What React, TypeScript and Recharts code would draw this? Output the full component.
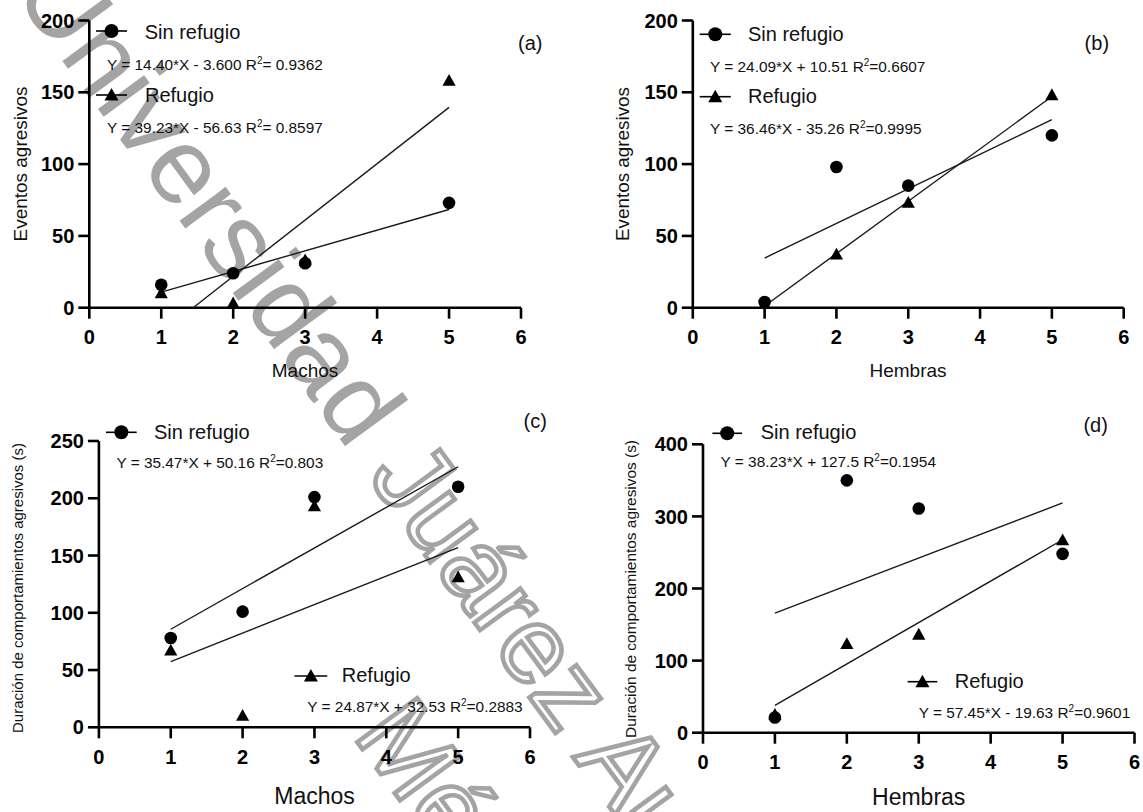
import React from 'react';
import { ScatterChart, Scatter, XAxis, YAxis, Legend, Label } from 'recharts';

const FONT = '"Liberation Sans", Arial, Helvetica, sans-serif';

// ---------- data ----------
const xValues = [1, 2, 3, 5];
const xTicks = [0, 1, 2, 3, 4, 5, 6];
const seriesNames = ['Sin refugio', 'Refugio'];

// (a) Eventos agresivos vs Machos
const aSin = [16, 24, 31, 73];
const aRef = [10, 3, 33, 158];
const aSinFitX = [1, 5];
const aSinFitY = [10.8, 68.4];
const aRefFitX = [1.443, 5];
const aRefFitY = [0, 139.5];
const aEqSin = ['Y = 14.40*X - 3.600 R', '= 0.9362'];
const aEqRef = ['Y = 39.23*X - 56.63 R', '= 0.8597'];
const aYTicks = [0, 50, 100, 150, 200];

// (b) Eventos agresivos vs Hembras
const bSin = [4, 98, 85, 120];
const bRef = [2, 37, 73, 148];
const bSinFitX = [1, 5];
const bSinFitY = [34.6, 130.96];
const bRefFitX = [1, 5];
const bRefFitY = [1.2, 147.04];
const bEqSin = ['Y = 24.09*X + 10.51 R', '=0.6607'];
const bEqRef = ['Y = 36.46*X - 35.26 R', '=0.9995'];
const bYTicks = [0, 50, 100, 150, 200];

// (c) Duración vs Machos
const cSin = [78, 101, 201, 210];
const cRef = [67, 10, 193, 131];
const cSinFitX = [1, 5];
const cSinFitY = [85.63, 227.51];
const cRefFitX = [1, 5];
const cRefFitY = [57.4, 156.88];
const cEqSin = ['Y = 35.47*X + 50.16 R', '=0.803'];
const cEqRef = ['Y = 24.87*X + 32.53 R', '=0.2883'];
const cYTicks = [0, 50, 100, 150, 200, 250];

// (d) Duración vs Hembras
const dSin = [21, 350, 311, 248];
const dRef = [25, 123, 136, 267];
const dSinFitX = [1, 5];
const dSinFitY = [165.73, 318.65];
const dRefFitX = [1, 5];
const dRefFitY = [37.82, 267.62];
const dEqSin = ['Y = 38.23*X + 127.5 R', '=0.1954'];
const dEqRef = ['Y = 57.45*X - 19.63 R', '=0.9601'];
const dYTicks = [0, 100, 200, 300, 400];

const yTitleEventos = 'Eventos agresivos';
const yTitleDuracion = 'Duración de comportamientos agresivos (s)';
const xTitleMachos = 'Machos';
const xTitleHembras = 'Hembras';
const watermark1a = 'Universidad';
const watermark1b = ' Juárez Autónoma de Tabasco';
const watermark2 = 'México';

const toPts = (xs: number[], ys: number[]) => xs.map((x, i) => ({ x, y: ys[i] }));

// ---------- shapes ----------
const CircleDot = (p: any) => <circle cx={p.cx} cy={p.cy} r={6.3} fill="#000" />;
const TriDot = (p: any) => (
  <path d={`M${p.cx},${p.cy - 6.8}L${p.cx + 6.6},${p.cy + 5}L${p.cx - 6.6},${p.cy + 5}Z`} fill="#000" />
);
const NoDot = () => <g />;

type Entry = {
  kind: 'circle' | 'triangle';
  lx1: number; lx2: number; ly: number;
  tx: number; ty: number; name: string;
  ex: number; ey: number; eq: string[];
};

const EqText = ({ x, y, eq }: { x: number; y: number; eq: string[] }) => (
  <text x={x} y={y} fontSize={15.4} fontFamily={FONT} fill="#111">
    {eq[0]}
    <tspan dy={-6} fontSize={10}>2</tspan>
    <tspan dy={6}>{eq[1]}</tspan>
  </text>
);

const LegendBox = ({ w, h, entries, title }: { w: number; h: number; entries: Entry[]; title: { text: string; x: number; y: number } }) => (
  <svg width={w} height={h} style={{ position: 'absolute', left: 0, top: 0, overflow: 'visible', pointerEvents: 'none' }}>
    {entries.map((e, i) => {
      const cx = (e.lx1 + e.lx2) / 2;
      return (
        <g key={i}>
          <line x1={e.lx1} x2={e.lx2} y1={e.ly} y2={e.ly} stroke="#000" strokeWidth={1.6} />
          {e.kind === 'circle' ? (
            <circle cx={cx} cy={e.ly} r={7} fill="#000" />
          ) : (
            <path d={`M${cx},${e.ly - 7}L${cx + 7},${e.ly + 5.5}L${cx - 7},${e.ly + 5.5}Z`} fill="#000" />
          )}
          <text x={e.tx} y={e.ty} fontSize={20} fontFamily={FONT} fill="#111">{e.name}</text>
          <EqText x={e.ex} y={e.ey} eq={e.eq} />
        </g>
      );
    })}
    <text x={title.x} y={title.y} fontSize={20} fontFamily={FONT} fill="#111">{title.text}</text>
  </svg>
);

type PanelProps = {
  left: number; top: number; w: number; h: number;
  plot: { l: number; r: number; t: number; b: number };
  yMax: number; yTicks: number[];
  sin: number[]; ref: number[];
  sinFit: { x: number; y: number }[]; refFit: { x: number; y: number }[];
  yTitle: { text: string; cx: number; cy: number; size: number; len: number };
  xTitle: { text: string; cx: number; y: number; size: number };
  title: { text: string; x: number; y: number };
  entries: Entry[];
};

const Panel = (p: PanelProps) => {
  const xAxisH = 40;
  const margin = { top: p.plot.t, left: 0, right: p.w - p.plot.r, bottom: p.h - p.plot.b - xAxisH };
  const sinPts = toPts(xValues, p.sin);
  const refPts = toPts(xValues, p.ref);
  const axisStyle = { stroke: '#000', strokeWidth: 2.6 };
  const tickStyle = { fill: '#000', fontSize: 20, fontWeight: 700, fontFamily: FONT };
  return (
    <div style={{ position: 'absolute', left: p.left, top: p.top, width: p.w, height: p.h }}>
      <ScatterChart width={p.w} height={p.h} margin={margin}>
        <XAxis
          type="number" dataKey="x" domain={[0, 6]} ticks={xTicks} interval={0}
          height={xAxisH} tickSize={11} tickMargin={11}
          axisLine={axisStyle} tickLine={axisStyle} tick={tickStyle} allowDataOverflow
        >
          <Label
            content={() => (
              <text x={p.xTitle.cx} y={p.xTitle.y} textAnchor="middle" fontSize={p.xTitle.size} fontFamily={FONT} fill="#111">
                {p.xTitle.text}
              </text>
            )}
          />
        </XAxis>
        <YAxis
          type="number" dataKey="y" domain={[0, p.yMax]} ticks={p.yTicks} interval={0}
          width={p.plot.l} tickSize={11} tickMargin={4}
          axisLine={axisStyle} tickLine={axisStyle} tick={tickStyle} allowDataOverflow
        >
          <Label
            content={() => (
              <text
                x={p.yTitle.cx} y={p.yTitle.cy} textAnchor="middle" dominantBaseline="central"
                transform={`rotate(-90 ${p.yTitle.cx} ${p.yTitle.cy})`}
                fontSize={p.yTitle.size} fontFamily={FONT} fill="#111"
                textLength={p.yTitle.len} lengthAdjust="spacingAndGlyphs"
              >
                {p.yTitle.text}
              </text>
            )}
          />
        </YAxis>
        <Scatter name="fit-sin" data={p.sinFit} line={{ stroke: '#1a1a1a', strokeWidth: 1.4 }} lineType="joint" shape={NoDot} isAnimationActive={false} legendType="none" />
        <Scatter name="fit-ref" data={p.refFit} line={{ stroke: '#1a1a1a', strokeWidth: 1.4 }} lineType="joint" shape={NoDot} isAnimationActive={false} legendType="none" />
        <Scatter name={seriesNames[1]} data={refPts} shape={TriDot} isAnimationActive={false} />
        <Scatter name={seriesNames[0]} data={sinPts} shape={CircleDot} isAnimationActive={false} />
        <Legend
          layout="horizontal" verticalAlign="middle" align="center"
          wrapperStyle={{ position: 'absolute', left: 0, top: 0, width: p.w, height: p.h, pointerEvents: 'none' }}
          content={() => <LegendBox w={p.w} h={p.h} entries={p.entries} title={p.title} />}
        />
      </ScatterChart>
    </div>
  );
};

const Watermark = () => (
  <svg width={1143} height={812} style={{ position: 'absolute', left: 0, top: 0 }}>
    <g transform="translate(12,-8) rotate(53.75)">
      <text x={0} y={0} fontSize={108} fontFamily={FONT}>
        <tspan fill="#a4a4a4">{watermark1a}</tspan>
        <tspan fill="#fff" stroke="#a4a4a4" strokeWidth={4.5}>{watermark1b}</tspan>
      </text>
    </g>
    <g transform="translate(352,735) rotate(53.75)">
      <text x={0} y={0} fontSize={108} fontFamily={FONT} fill="#fff" stroke="#a4a4a4" strokeWidth={4.5}>
        {watermark2}
      </text>
    </g>
  </svg>
);

export default function App() {
  return (
    <div style={{ position: 'absolute', left: 0, top: 0, width: 1143, height: 812, background: '#fff', overflow: 'hidden' }}>
      <Watermark />
      <Panel
        left={0} top={0} w={570} h={400}
        plot={{ l: 89.3, r: 521, t: 20.5, b: 307.7 }}
        yMax={200} yTicks={aYTicks} sin={aSin} ref={aRef}
        sinFit={toPts(aSinFitX, aSinFitY)} refFit={toPts(aRefFitX, aRefFitY)}
        yTitle={{ text: yTitleEventos, cx: 20, cy: 164, size: 19, len: 155 }}
        xTitle={{ text: xTitleMachos, cx: 305, y: 376.5, size: 19 }}
        title={{ text: '(a)', x: 518, y: 50 }}
        entries={[
          { kind: 'circle', lx1: 96, lx2: 127, ly: 31, tx: 144.7, ty: 39.3, name: seriesNames[0], ex: 107, ey: 70, eq: aEqSin },
          { kind: 'triangle', lx1: 96, lx2: 127, ly: 95, tx: 145, ty: 101.7, name: seriesNames[1], ex: 107, ey: 132.7, eq: aEqRef },
        ]}
      />
      <Panel
        left={570} top={0} w={573} h={400}
        plot={{ l: 122.8, r: 553.7, t: 20.5, b: 307.7 }}
        yMax={200} yTicks={bYTicks} sin={bSin} ref={bRef}
        sinFit={toPts(bSinFitX, bSinFitY)} refFit={toPts(bRefFitX, bRefFitY)}
        yTitle={{ text: yTitleEventos, cx: 52, cy: 164, size: 19, len: 154 }}
        xTitle={{ text: xTitleHembras, cx: 338, y: 376.5, size: 19 }}
        title={{ text: '(b)', x: 514.6, y: 50 }}
        entries={[
          { kind: 'circle', lx1: 129.7, lx2: 160.8, ly: 34.3, tx: 178, ty: 41, name: seriesNames[0], ex: 140, ey: 71.7, eq: bEqSin },
          { kind: 'triangle', lx1: 129.7, lx2: 160.8, ly: 96.7, tx: 178, ty: 103.3, name: seriesNames[1], ex: 140, ey: 134, eq: bEqRef },
        ]}
      />
      <Panel
        left={0} top={400} w={570} h={412}
        plot={{ l: 98.9, r: 530, t: 41, b: 327.3 }}
        yMax={250} yTicks={cYTicks} sin={cSin} ref={cRef}
        sinFit={toPts(cSinFitX, cSinFitY)} refFit={toPts(cRefFitX, cRefFitY)}
        yTitle={{ text: yTitleDuracion, cx: 17.3, cy: 188, size: 15, len: 290 }}
        xTitle={{ text: xTitleMachos, cx: 314.5, y: 404, size: 23 }}
        title={{ text: '(c)', x: 523.6, y: 28.3 }}
        entries={[
          { kind: 'circle', lx1: 106, lx2: 136.7, ly: 32.3, tx: 154, ty: 39.3, name: seriesNames[0], ex: 116.4, ey: 68.3, eq: cEqSin },
          { kind: 'triangle', lx1: 294.5, lx2: 327.3, ly: 276, tx: 341.8, ty: 281.7, name: seriesNames[1], ex: 307.3, ey: 311.7, eq: cEqRef },
        ]}
      />
      <Panel
        left={570} top={400} w={573} h={412}
        plot={{ l: 133, r: 564.5, t: 44.3, b: 332.7 }}
        yMax={400} yTicks={dYTicks} sin={dSin} ref={dRef}
        sinFit={toPts(dSinFitX, dSinFitY)} refFit={toPts(dRefFitX, dRefFitY)}
        yTitle={{ text: yTitleDuracion, cx: 60.7, cy: 189, size: 15.4, len: 298 }}
        xTitle={{ text: xTitleHembras, cx: 348.7, y: 405, size: 23 }}
        title={{ text: '(d)', x: 513.4, y: 31.7 }}
        entries={[
          { kind: 'circle', lx1: 142.4, lx2: 172, ly: 33.3, tx: 190.7, ty: 39.3, name: seriesNames[0], ex: 150.6, ey: 67.3, eq: dEqSin },
          { kind: 'triangle', lx1: 337.6, lx2: 367.3, ly: 281.7, tx: 384.8, ty: 288.3, name: seriesNames[1], ex: 348.7, ey: 318.3, eq: dEqRef },
        ]}
      />
    </div>
  );
}
